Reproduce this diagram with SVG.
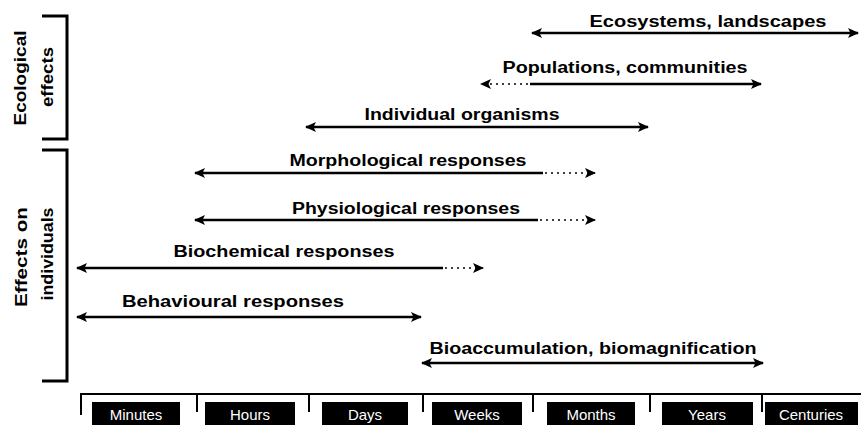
<svg xmlns="http://www.w3.org/2000/svg" width="861" height="425" viewBox="0 0 861 425">
<style>
.lbl{font-family:"Liberation Sans",Arial,sans-serif;font-weight:bold;font-size:16px;fill:#000;text-anchor:middle}
.side{font-family:"Liberation Sans",Arial,sans-serif;font-weight:bold;font-size:16px;fill:#000;text-anchor:middle}
.ax{font-family:"Liberation Sans",Arial,sans-serif;font-size:15px;fill:#fff;text-anchor:middle}
.sol{stroke:#000;stroke-width:2.5;fill:none}
.dot{stroke:#000;stroke-width:1.6;fill:none;stroke-dasharray:2 4}
.brk{stroke:#000;stroke-width:3;fill:none}
.box{fill:#000}
</style>
<defs>
<marker id="ah" markerUnits="userSpaceOnUse" markerWidth="11" markerHeight="11" refX="10" refY="5.5" orient="auto-start-reverse">
<path d="M0,0.5 L11,5.5 L0,10.5 L2.5,5.5 z" fill="#000"/>
</marker>
</defs>
<rect width="861" height="425" fill="#fff"/>
<g id="side-labels">
<path class="brk" d="M42,16 H67 V139 H42"/>
<path class="brk" d="M42,150 H67 V381 H42"/>
<text class="side" transform="translate(26,78) rotate(-90)" textLength="95" lengthAdjust="spacingAndGlyphs">Ecological</text>
<text class="side" transform="translate(53,77) rotate(-90)" textLength="60" lengthAdjust="spacingAndGlyphs">effects</text>
<text class="side" transform="translate(27,257) rotate(-90)" textLength="100" lengthAdjust="spacingAndGlyphs">Effects on</text>
<text class="side" transform="translate(53,254) rotate(-90)" textLength="93" lengthAdjust="spacingAndGlyphs">individuals</text>
</g>
<g id="connectors">
<line class="sol" x1="532" y1="33" x2="858" y2="33" marker-start="url(#ah)" marker-end="url(#ah)"/>
<line class="dot" x1="528" y1="84" x2="481" y2="84" marker-end="url(#ah)"/>
<line class="sol" x1="530" y1="84" x2="761" y2="84" marker-end="url(#ah)"/>
<line class="sol" x1="306" y1="127" x2="648" y2="127" marker-start="url(#ah)" marker-end="url(#ah)"/>
<line class="sol" x1="195" y1="173" x2="543" y2="173" marker-start="url(#ah)"/>
<line class="dot" x1="545" y1="173" x2="595" y2="173" marker-end="url(#ah)"/>
<line class="sol" x1="195" y1="220" x2="538" y2="220" marker-start="url(#ah)"/>
<line class="dot" x1="540" y1="220" x2="595" y2="220" marker-end="url(#ah)"/>
<line class="sol" x1="77" y1="268" x2="443" y2="268" marker-start="url(#ah)"/>
<line class="dot" x1="445" y1="268" x2="483" y2="268" marker-end="url(#ah)"/>
<line class="sol" x1="77" y1="317" x2="421" y2="317" marker-start="url(#ah)" marker-end="url(#ah)"/>
<line class="sol" x1="422" y1="363" x2="763" y2="363" marker-start="url(#ah)" marker-end="url(#ah)"/>
</g>
<g id="n-ecosystems"><text class="lbl" x="708" y="27" textLength="237" lengthAdjust="spacingAndGlyphs">Ecosystems, landscapes</text></g>
<g id="n-populations"><text class="lbl" x="625" y="73" textLength="245" lengthAdjust="spacingAndGlyphs">Populations, communities</text></g>
<g id="n-individual"><text class="lbl" x="462" y="120" textLength="195" lengthAdjust="spacingAndGlyphs">Individual organisms</text></g>
<g id="n-morph"><text class="lbl" x="408" y="166" textLength="237" lengthAdjust="spacingAndGlyphs">Morphological responses</text></g>
<g id="n-phys"><text class="lbl" x="406" y="214" textLength="228" lengthAdjust="spacingAndGlyphs">Physiological responses</text></g>
<g id="n-biochem"><text class="lbl" x="284" y="257" textLength="221" lengthAdjust="spacingAndGlyphs">Biochemical responses</text></g>
<g id="n-behav"><text class="lbl" x="233" y="307" textLength="222" lengthAdjust="spacingAndGlyphs">Behavioural responses</text></g>
<g id="n-bioacc"><text class="lbl" x="593" y="354" textLength="327" lengthAdjust="spacingAndGlyphs">Bioaccumulation, biomagnification</text></g>
<g id="axis">
<path stroke="#000" stroke-width="2" fill="none" d="M81,415 V394 H861 M197,394 V412 M309,394 V412 M423,394 V412 M533,394 V412 M650,394 V412 M762,394 V412"/>
<rect class="box" x="92" y="402" width="88" height="23"/>
<rect class="box" x="205" y="402" width="90" height="23"/>
<rect class="box" x="322" y="402" width="86" height="23"/>
<rect class="box" x="432" y="402" width="90" height="23"/>
<rect class="box" x="547" y="402" width="88" height="23"/>
<rect class="box" x="662" y="402" width="91" height="23"/>
<rect class="box" x="765" y="402" width="93" height="23"/>
<text class="ax" x="136" y="420">Minutes</text>
<text class="ax" x="250" y="420">Hours</text>
<text class="ax" x="365" y="420">Days</text>
<text class="ax" x="477" y="420">Weeks</text>
<text class="ax" x="591" y="420">Months</text>
<text class="ax" x="707" y="420">Years</text>
<text class="ax" x="811" y="420">Centuries</text>
</g>
</svg>
